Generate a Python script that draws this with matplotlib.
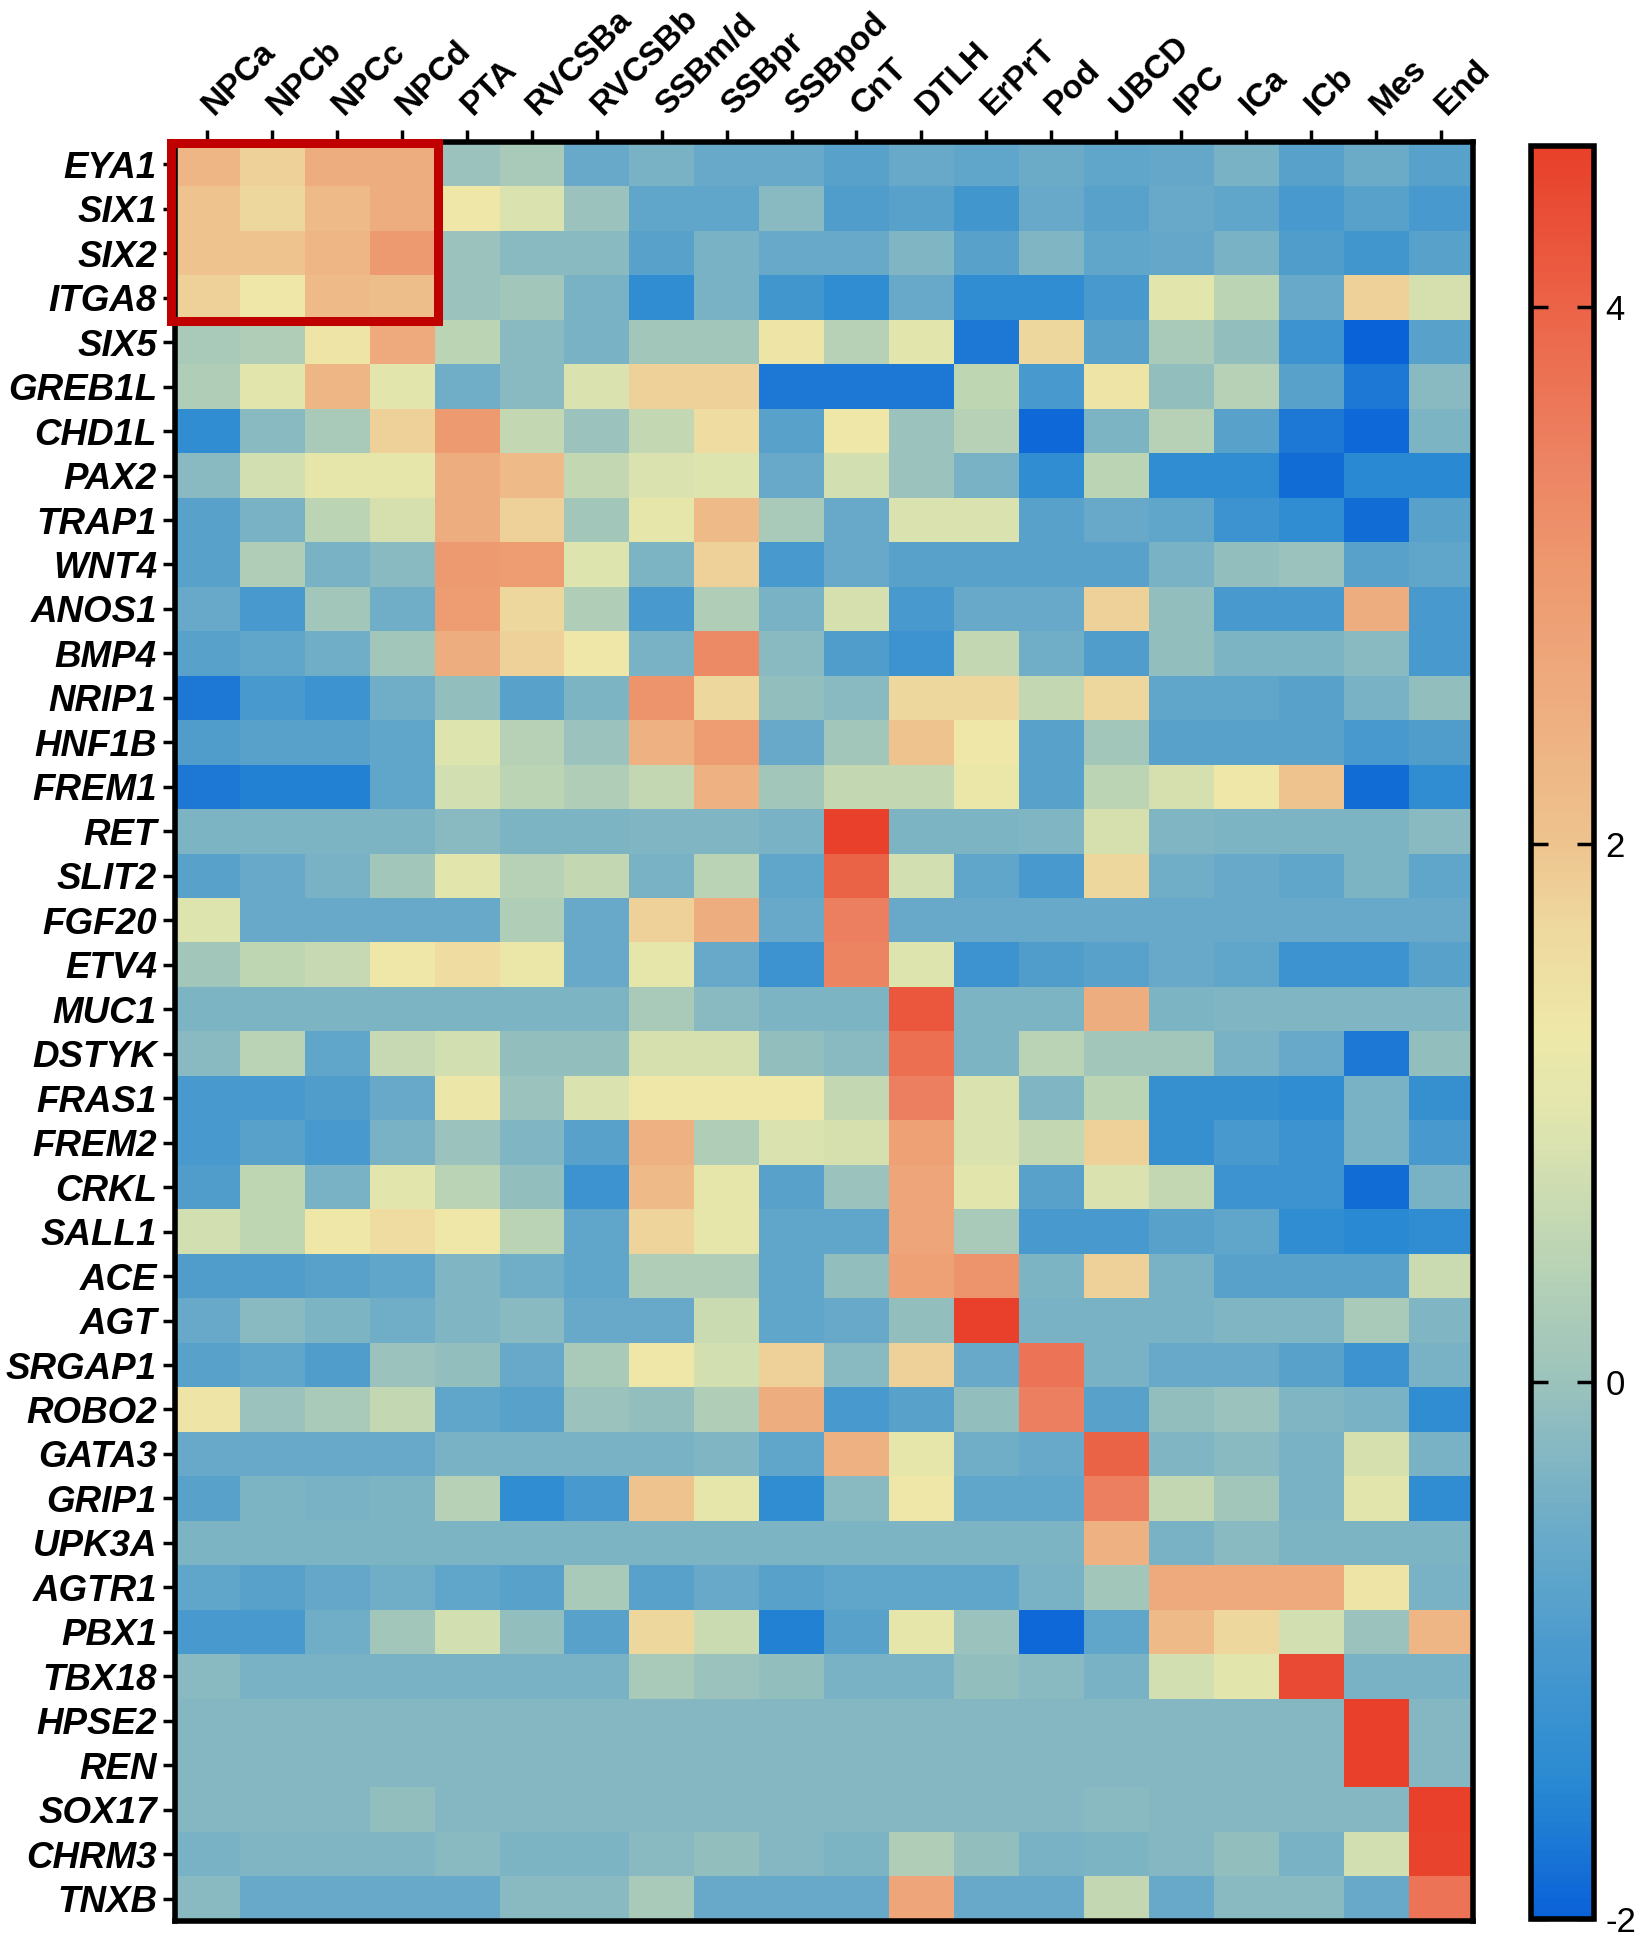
"""
Heatmap of nephron-lineage marker genes across kidney cell clusters
"""

import matplotlib
matplotlib.use('Agg')
import matplotlib.pyplot as plt
from matplotlib.colors import LinearSegmentedColormap
from matplotlib.patches import Rectangle
import numpy as np

plt.rcParams['font.family'] = ['Liberation Sans', 'DejaVu Sans']

# cluster names (columns) and genes (rows)
clusters = ['NPCa', 'NPCb', 'NPCc', 'NPCd', 'PTA', 'RVCSBa', 'RVCSBb', 'SSBm/d',
            'SSBpr', 'SSBpod', 'CnT', 'DTLH', 'ErPrT', 'Pod', 'UBCD', 'IPC',
            'ICa', 'ICb', 'Mes', 'End']
genes = ['EYA1', 'SIX1', 'SIX2', 'ITGA8', 'SIX5', 'GREB1L', 'CHD1L', 'PAX2',
         'TRAP1', 'WNT4', 'ANOS1', 'BMP4', 'NRIP1', 'HNF1B', 'FREM1', 'RET',
         'SLIT2', 'FGF20', 'ETV4', 'MUC1', 'DSTYK', 'FRAS1', 'FREM2', 'CRKL',
         'SALL1', 'ACE', 'AGT', 'SRGAP1', 'ROBO2', 'GATA3', 'GRIP1', 'UPK3A',
         'AGTR1', 'PBX1', 'TBX18', 'HPSE2', 'REN', 'SOX17', 'CHRM3', 'TNXB']

# scaled expression, one row per gene
expr = [
    [2.3, 1.8, 2.5, 2.5, 0.0, 0.2, -0.6, -0.4, -0.6, -0.6, -0.8, -0.6, -0.7, -0.55, -0.7, -0.65, -0.4, -0.8, -0.55, -0.8],
    [2.0, 1.7, 2.2, 2.5, 1.3, 0.9, 0.0, -0.7, -0.7, -0.2, -0.9, -0.8, -1.1, -0.6, -0.8, -0.6, -0.7, -1.0, -0.8, -1.0],
    [2.0, 2.0, 2.3, 3.0, 0.0, -0.2, -0.2, -0.8, -0.4, -0.6, -0.6, -0.3, -0.8, -0.3, -0.7, -0.65, -0.4, -0.9, -1.1, -0.8],
    [1.8, 1.3, 2.2, 2.1, 0.0, 0.1, -0.4, -1.4, -0.4, -1.1, -1.4, -0.6, -1.4, -1.4, -1.0, 1.0, 0.5, -0.6, 1.8, 0.85],
    [0.2, 0.3, 1.4, 2.6, 0.5, -0.2, -0.4, 0.1, 0.1, 1.4, 0.4, 1.0, -1.7, 1.7, -0.8, 0.2, -0.1, -1.2, -2.0, -0.8],
    [0.3, 1.0, 2.3, 1.0, -0.5, -0.2, 0.9, 1.8, 1.8, -1.7, -1.7, -1.7, 0.55, -1.0, 1.4, -0.1, 0.4, -0.8, -1.7, -0.2],
    [-1.4, -0.2, 0.2, 1.8, 3.0, 0.6, 0.0, 0.6, 1.6, -0.8, 1.3, 0.0, 0.4, -1.9, -0.35, 0.4, -0.8, -1.7, -1.9, -0.35],
    [-0.2, 0.8, 1.1, 1.1, 2.5, 2.2, 0.6, 0.9, 0.95, -0.6, 0.8, 0.0, -0.4, -1.4, 0.5, -1.4, -1.4, -1.85, -1.5, -1.5],
    [-0.8, -0.4, 0.5, 0.85, 2.5, 1.8, 0.1, 1.1, 2.2, 0.2, -0.6, 0.9, 0.9, -0.8, -0.6, -0.7, -1.2, -1.4, -1.85, -0.8],
    [-0.8, 0.3, -0.4, -0.2, 3.0, 2.9, 0.95, -0.35, 1.8, -1.0, -0.6, -0.8, -0.8, -0.8, -0.8, -0.4, -0.1, 0.0, -0.8, -0.7],
    [-0.6, -1.0, 0.1, -0.5, 2.9, 1.7, 0.3, -1.0, 0.3, -0.4, 0.85, -1.0, -0.6, -0.6, 1.8, -0.1, -1.0, -1.0, 2.5, -1.0],
    [-0.8, -0.7, -0.5, 0.1, 2.5, 1.8, 1.3, -0.4, 3.3, -0.2, -0.9, -1.2, 0.6, -0.5, -0.9, -0.1, -0.35, -0.35, -0.2, -1.0],
    [-1.7, -1.0, -1.2, -0.5, -0.1, -0.8, -0.35, 3.1, 1.7, -0.1, -0.2, 1.7, 1.7, 0.6, 1.7, -0.7, -0.7, -0.8, -0.4, -0.1],
    [-0.9, -0.8, -0.8, -0.7, 0.95, 0.4, 0.0, 2.4, 2.9, -0.6, 0.1, 2.0, 1.3, -0.8, 0.1, -0.8, -0.8, -0.8, -1.0, -0.9],
    [-1.7, -1.6, -1.6, -0.7, 0.8, 0.5, 0.3, 0.6, 2.4, 0.1, 0.6, 0.6, 1.2, -0.8, 0.5, 0.85, 1.3, 2.0, -1.85, -1.4],
    [-0.35, -0.35, -0.35, -0.35, -0.2, -0.35, -0.35, -0.3, -0.3, -0.4, 4.6, -0.35, -0.35, -0.3, 0.85, -0.3, -0.35, -0.35, -0.35, -0.2],
    [-0.8, -0.6, -0.4, 0.1, 1.0, 0.4, 0.6, -0.4, 0.45, -0.7, 4.0, 0.8, -0.7, -1.0, 1.7, -0.5, -0.6, -0.7, -0.35, -0.7],
    [0.95, -0.6, -0.6, -0.6, -0.6, 0.3, -0.6, 1.8, 2.5, -0.6, 3.5, -0.6, -0.6, -0.6, -0.6, -0.6, -0.6, -0.6, -0.6, -0.6],
    [0.1, 0.55, 0.65, 1.3, 1.6, 1.2, -0.6, 1.1, -0.6, -1.2, 3.4, 0.95, -1.2, -0.9, -0.8, -0.6, -0.7, -1.2, -1.2, -0.8],
    [-0.35, -0.35, -0.35, -0.35, -0.35, -0.35, -0.35, 0.2, -0.2, -0.35, -0.35, 4.2, -0.35, -0.35, 2.5, -0.35, -0.3, -0.3, -0.3, -0.3],
    [-0.2, 0.45, -0.7, 0.65, 0.8, -0.1, -0.1, 0.85, 0.85, -0.1, -0.2, 3.8, -0.35, 0.45, 0.1, 0.1, -0.4, -0.6, -1.7, -0.1],
    [-1.0, -1.0, -0.9, -0.6, 1.25, 0.0, 0.9, 1.3, 1.3, 1.3, 0.6, 3.5, 0.9, -0.3, 0.5, -1.3, -1.3, -1.4, -0.4, -1.3],
    [-1.0, -0.8, -1.0, -0.4, 0.0, -0.3, -0.8, 2.4, 0.3, 0.9, 0.85, 2.8, 0.9, 0.6, 1.8, -1.3, -1.0, -1.2, -0.4, -1.0],
    [-0.9, 0.55, -0.4, 1.0, 0.45, -0.1, -1.2, 2.2, 1.1, -0.8, 0.0, 2.7, 1.0, -0.8, 0.9, 0.6, -1.2, -1.2, -1.85, -0.4],
    [0.8, 0.55, 1.3, 1.6, 1.3, 0.45, -0.7, 1.75, 1.1, -0.7, -0.7, 2.7, 0.2, -1.0, -1.0, -0.8, -0.7, -1.4, -1.5, -1.4],
    [-0.9, -0.9, -0.8, -0.7, -0.3, -0.5, -0.7, 0.3, 0.3, -0.7, -0.1, 2.8, 3.1, -0.35, 1.8, -0.4, -0.8, -0.8, -0.8, 0.7],
    [-0.6, -0.2, -0.35, -0.5, -0.3, -0.2, -0.6, -0.6, 0.7, -0.7, -0.6, -0.1, 4.6, -0.4, -0.4, -0.4, -0.3, -0.3, 0.2, -0.3],
    [-0.8, -0.7, -0.9, 0.0, -0.1, -0.6, 0.2, 1.3, 0.8, 1.8, -0.2, 1.8, -0.6, 3.7, -0.4, -0.6, -0.6, -0.8, -1.2, -0.4],
    [1.4, 0.0, 0.2, 0.6, -0.7, -0.8, 0.0, -0.1, 0.3, 2.5, -1.0, -0.8, -0.1, 3.5, -0.8, -0.1, 0.0, -0.3, -0.4, -1.4],
    [-0.6, -0.6, -0.6, -0.6, -0.4, -0.4, -0.4, -0.4, -0.3, -0.7, 2.4, 1.1, -0.5, -0.6, 4.0, -0.3, -0.2, -0.4, 0.85, -0.4],
    [-0.8, -0.35, -0.4, -0.35, 0.4, -1.4, -1.0, 2.0, 1.1, -1.4, -0.2, 1.3, -0.7, -0.7, 3.5, 0.6, 0.1, -0.4, 1.0, -1.4],
    [-0.35, -0.35, -0.35, -0.35, -0.35, -0.35, -0.35, -0.35, -0.35, -0.35, -0.35, -0.35, -0.35, -0.35, 2.4, -0.4, -0.2, -0.35, -0.35, -0.35],
    [-0.7, -0.8, -0.65, -0.5, -0.7, -0.8, 0.2, -0.8, -0.6, -0.8, -0.7, -0.7, -0.7, -0.4, 0.1, 2.6, 2.6, 2.6, 1.4, -0.4],
    [-1.0, -1.0, -0.5, 0.1, 0.8, -0.1, -0.8, 1.7, 0.7, -1.6, -0.8, 1.1, 0.0, -1.9, -0.7, 2.2, 1.7, 0.8, 0.0, 2.3],
    [-0.2, -0.4, -0.4, -0.4, -0.4, -0.4, -0.4, 0.2, 0.0, -0.1, -0.4, -0.4, -0.1, -0.2, -0.4, 0.8, 1.0, 4.4, -0.4, -0.4],
    [-0.25, -0.25, -0.25, -0.25, -0.25, -0.25, -0.25, -0.25, -0.25, -0.25, -0.25, -0.25, -0.25, -0.25, -0.25, -0.25, -0.25, -0.25, 4.6, -0.25],
    [-0.25, -0.25, -0.25, -0.25, -0.25, -0.25, -0.25, -0.25, -0.25, -0.25, -0.25, -0.25, -0.25, -0.25, -0.25, -0.25, -0.25, -0.25, 4.6, -0.25],
    [-0.25, -0.25, -0.25, -0.1, -0.25, -0.25, -0.25, -0.25, -0.25, -0.25, -0.25, -0.25, -0.25, -0.25, -0.2, -0.25, -0.25, -0.25, -0.25, 4.6],
    [-0.4, -0.3, -0.3, -0.3, -0.2, -0.35, -0.35, -0.2, -0.1, -0.25, -0.35, 0.3, -0.1, -0.4, -0.35, -0.25, -0.1, -0.4, 0.8, 4.5],
    [-0.2, -0.6, -0.6, -0.6, -0.6, -0.2, -0.2, 0.2, -0.6, -0.6, -0.6, 2.7, -0.6, -0.6, 0.6, -0.6, -0.2, -0.2, -0.6, 3.7],
]

cbar_ticks = [-2, 0, 2, 4]

# blue -> grey-green -> yellow -> red, matched to the colour bar
vmin, vmax = -2.0, 4.6
anchors = [(-2.0, '#0a62d8'), (-1.5, '#2a8ad2'), (-1.0, '#4a9ace'), (-0.5, '#70aec8'),
           (0.0, '#9cc3bc'), (0.5, '#bdd5b4'), (1.0, '#e2e6ae'), (1.3, '#eee8a8'),
           (1.7, '#eed89e'), (2.0, '#eec48e'), (2.5, '#eeae80'), (3.0, '#ee9a70'),
           (3.5, '#ec8060'), (4.0, '#ec6448'), (4.6, '#e8402a')]
cmap = LinearSegmentedColormap.from_list(
    'expr', [((v - vmin) / (vmax - vmin), c) for v, c in anchors])

fig = plt.figure(figsize=(16.42, 19.37), dpi=100)
ax = fig.add_axes([0.1066, 0.0083, 0.7905, 0.9184])
cax = fig.add_axes([0.9325, 0.0093, 0.0385, 0.9153])

data = np.array(expr)
im = ax.imshow(data, cmap=cmap, vmin=vmin, vmax=vmax, aspect='auto',
               interpolation='nearest')

ax.set_xticks(range(len(clusters)))
ax.set_yticks(range(len(genes)))
ax.xaxis.tick_top()
ax.set_xticklabels(clusters, rotation=45, ha='left', va='center',
                   rotation_mode='anchor', fontsize=24, fontweight='bold')
ax.set_yticklabels(genes, fontsize=26.5, fontweight='bold', fontstyle='italic')
ax.tick_params(axis='both', length=9, width=2.5, color='black', pad=4)
ax.tick_params(axis='x', pad=14)
for s in ax.spines.values():
    s.set_linewidth(4)

# highlight the nephron progenitor block
box = Rectangle((-0.555, -0.47), 4.1, 4.0, fill=False, edgecolor='#c00000',
                linewidth=6.5, clip_on=False, zorder=5)
ax.add_patch(box)

cb = fig.colorbar(im, cax=cax, ticks=cbar_ticks)
cb.outline.set_linewidth(4)
cax.tick_params(axis='y', direction='in', length=12, width=2.5,
                labelsize=25, pad=8, right=True, left=True)
cb.set_ticklabels([str(t) for t in cbar_ticks])

fig.savefig('out.png', dpi=100)
